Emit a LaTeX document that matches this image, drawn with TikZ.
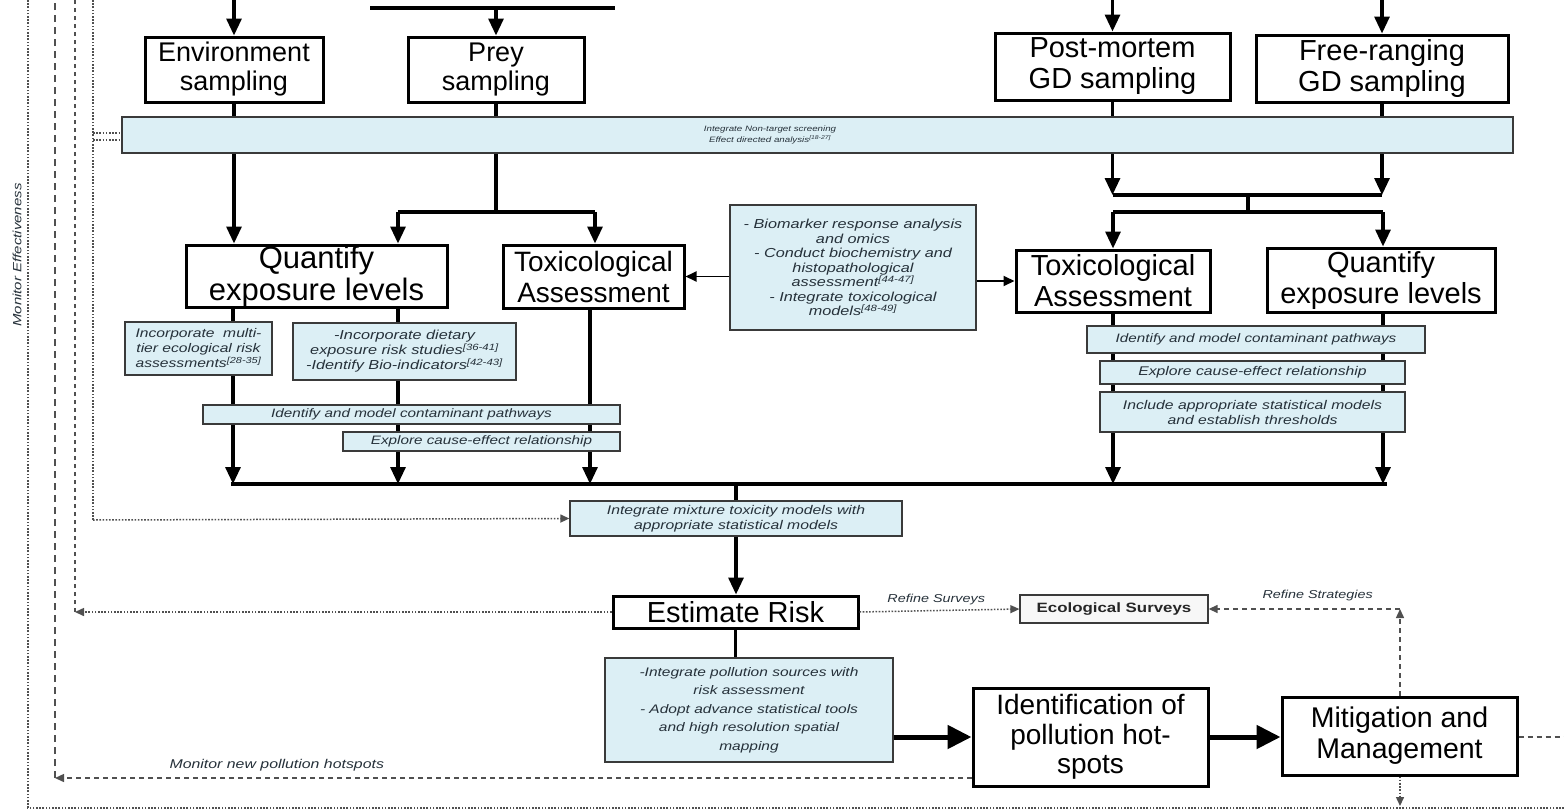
\documentclass[tikz,border=0pt]{standalone}
\usepackage{fontspec}
\setmainfont{Liberation Sans}
\newfontfamily\widesans{Liberation Sans}[FakeStretch=1.25]
\usetikzlibrary{arrows.meta,calc}
\definecolor{paleblue}{HTML}{DCEFF5}
\definecolor{notegray}{HTML}{26313A}
\definecolor{framegray}{HTML}{3A3A3A}
\definecolor{linkgray}{HTML}{505050}
\pgfdeclarelayer{canvas}
\pgfdeclarelayer{background}
\pgfsetlayers{canvas,background,main}
\tikzset{
  bigbox/.style={draw=black, line width=3pt, fill=white, inner sep=0pt, align=center},
  note/.style={draw=framegray, line width=1.3pt, fill=paleblue, inner sep=0pt, align=center, text=notegray},
  flow/.style={line width=3.2pt, -{Triangle[length=17pt,width=15pt]}},
  plain/.style={line width=3.2pt},
  heavy/.style={line width=5pt, -{Triangle[length=24pt,width=23pt]}},
  thin flow/.style={line width=1.8pt, -{Triangle[length=11pt,width=10pt]}},
  dotline/.style={linkgray, line width=1.5pt, dash pattern=on 1.6pt off 1.6pt},
  dashline/.style={linkgray, line width=1.4pt, dash pattern=on 5pt off 4pt},
  tip/.style={-{Triangle[length=9pt,width=8pt]}},
  lbl/.style={text=notegray, inner sep=0pt, font=\widesans\itshape\fontsize{11.5}{13}\selectfont},
}
\newcommand{\nf}[2]{\widesans\itshape\fontsize{#1}{#2}\selectfont}
\newcommand{\bigtxt}[2]{\fontsize{#1}{#2}\selectfont}
\begin{document}
\begin{tikzpicture}[x=1pt,y=-1pt]
\begin{pgfonlayer}{canvas}
\fill[white] (0,0) rectangle (1564,811);
\end{pgfonlayer}
\useasboundingbox (0,0) rectangle (1564,811);

% ---- sampling row
\node[bigbox, minimum width=178, minimum height=65, font=\bigtxt{27}{29}] (env) at (234,69.5) {Environment\\sampling};
\node[bigbox, minimum width=176, minimum height=65, font=\bigtxt{27}{29}] (prey) at (496,69.5) {Prey\\sampling};
\node[bigbox, minimum width=235, minimum height=67, font=\bigtxt{29}{31}] (post) at (1112.5,66.5) {Post-mortem\\GD sampling};
\node[bigbox, minimum width=252, minimum height=67, font=\bigtxt{29}{31}] (free) at (1382,68.5) {Free-ranging\\GD sampling};

% ---- screening band
\node[note, minimum width=1391, minimum height=36] (nts) at (817.5,135) {};
\node[text=notegray, inner sep=0pt, align=center, font=\nf{7.8}{11}] (ntstext) at (770,135) {Integrate Non-target screening\\Effect directed analysis\textsuperscript{[18-27]}};

% ---- assessment row
\node[bigbox, minimum width=261, minimum height=62, font=\bigtxt{31}{32}] (qL) at (316.5,276) {Quantify\\exposure levels};
\node[bigbox, minimum width=181, minimum height=63, font=\bigtxt{28}{31}] (tL) at (593.5,276.5) {Toxicological\\Assessment};
\node[note, minimum width=246, minimum height=125, font=\nf{13}{14.5}] (bio) at (853,267.5) {- Biomarker response analysis\\and omics\\- Conduct biochemistry and\\histopathological\\assessment\textsuperscript{[44-47]}\\- Integrate toxicological\\models\textsuperscript{[48-49]}};
\node[bigbox, minimum width=194, minimum height=62, font=\bigtxt{29}{31}] (tR) at (1113,281) {Toxicological\\Assessment};
\node[bigbox, minimum width=228, minimum height=64, font=\bigtxt{29}{31}] (qR) at (1381,280) {Quantify\\exposure levels};

% ---- notes under the assessments
\node[note, minimum width=147, minimum height=53, font=\nf{12.5}{15}] (multi) at (198.5,348.5) {Incorporate \ multi-\\tier ecological risk\\assessments\textsuperscript{[28-35]}};
\node[note, minimum width=223, minimum height=57, font=\nf{13}{15}] (diet) at (404.5,351.5) {-Incorporate dietary\\exposure risk studies\textsuperscript{[36-41]}\\-Identify Bio-indicators\textsuperscript{[42-43]}};
\node[note, minimum width=417, minimum height=19, font=\nf{12.2}{14}] (pathL) at (411.5,414.5) {Identify and model contaminant pathways};
\node[note, minimum width=277, minimum height=19, font=\nf{12.2}{14}] (causeL) at (481.5,441.5) {Explore cause-effect relationship};
\node[note, minimum width=338, minimum height=27, font=\nf{12.2}{14}] (pathR) at (1256,339.5) {Identify and model contaminant pathways};
\node[note, minimum width=305, minimum height=23, font=\nf{12.6}{14}] (causeR) at (1252.5,372.5) {Explore cause-effect relationship};
\node[note, minimum width=305, minimum height=40, font=\nf{12.6}{15}] (statR) at (1252.5,412) {Include appropriate statistical models\\and establish thresholds};

% ---- integration and risk
\node[note, minimum width=332, minimum height=35, font=\nf{12.6}{15}] (mix) at (736,518.5) {Integrate mixture toxicity models with\\appropriate statistical models};
\node[bigbox, minimum width=245, minimum height=32, font=\bigtxt{29}{30}] (risk) at (735.5,612) {Estimate Risk};
\node[draw=framegray, line width=1.3pt, fill=gray!6, inner sep=0pt, minimum width=188, minimum height=28, text=black!85, font=\widesans\bfseries\fontsize{13.5}{15}\selectfont] (eco) at (1114,609) {Ecological Surveys};
\node[note, minimum width=288, minimum height=104, font=\nf{12.4}{18.5}] (poll) at (749,710) {-Integrate pollution sources with\\risk assessment\\- Adopt advance statistical tools\\and high resolution spatial\\mapping};
\node[bigbox, minimum width=235, minimum height=98, font=\bigtxt{28}{29.5}] (ident) at (1090.5,737) {Identification of\\pollution hot-\\spots};
\node[bigbox, minimum width=235, minimum height=78, font=\bigtxt{28.5}{31}] (mitig) at (1399.5,736) {Mitigation and\\Management};

% ---- junction and edge points
\coordinate (topEnv) at (234,0);
\coordinate (preyL) at (370,8);
\coordinate (preyR) at (615,8);
\coordinate (topPrey) at (496,8);
\coordinate (topPost) at (1112.5,0);
\coordinate (topFree) at (1382,0);
\coordinate (jPrey) at (496,212);
\coordinate (jPreyL) at (398,212);
\coordinate (jPreyR) at (595,212);
\coordinate (jGD) at (1248,195);
\coordinate (jGDa) at (1112.5,195);
\coordinate (jGDb) at (1382,195);
\coordinate (jGDc) at (1248,212);
\coordinate (jGDL) at (1113,212);
\coordinate (jGDR) at (1383,212);
\coordinate (busL) at (233,484);
\coordinate (busR) at (1385,484);
\coordinate (busM) at (736,484);
\coordinate (busT) at (590,484);
\coordinate (effX) at (28,808);
\coordinate (effTop) at (28,0);
\coordinate (effR) at (1564,808);
\coordinate (mitigDown) at (1400,806);
\coordinate (mitigOut) at (1564,737);
\coordinate (hotL) at (55,778);
\coordinate (hotTop) at (55,0);
\coordinate (riskL) at (75,612);
\coordinate (riskTop) at (75,0);
\coordinate (mixL) at (93,520);
\coordinate (mixTop) at (93,0);
\coordinate (stratC) at (1400,609);
\coordinate (ntsA) at (93,133);
\coordinate (ntsB) at (93,140);

\begin{pgfonlayer}{background}
  % incoming arrows at the top
  \draw[flow] (topEnv) -- (env.north);
  \draw[plain] (preyL) -- (preyR);
  \draw[flow] (topPrey) -- (prey.north);
  \draw[flow] (topPost) -- (post.north);
  \draw[flow] (topFree) -- (free.north);
  % sampling to assessment
  \draw[flow] (env.south) -- (env.south |- qL.north);
  \draw[plain] (prey.south) -- (jPrey);
  \draw[plain] (jPreyL) -- (jPreyR);
  \draw[flow] (jPreyL) -- (jPreyL |- qL.north);
  \draw[flow] (jPreyR) -- (jPreyR |- tL.north);
  \draw[flow] (post.south) -- (jGDa);
  \draw[flow] (free.south) -- (jGDb);
  \draw[plain] (jGDa) -- (jGDb);
  \draw[plain] (jGD) -- (jGDc);
  \draw[plain] (jGDL) -- (jGDR);
  \draw[flow] (jGDL) -- (jGDL |- tR.north);
  \draw[flow] (jGDR) -- (jGDR |- qR.north);
  % assessment to the bus
  \draw[flow] (busL |- qL.south) -- (busL);
  \draw[flow] (jPreyL |- qL.south) -- (jPreyL |- busL);
  \draw[flow] (busT |- tL.south) -- (busT);
  \draw[flow] (jGDL |- tR.south) -- (jGDL |- busL);
  \draw[flow] (jGDR |- qR.south) -- (jGDR |- busL);
  \draw[plain, line cap=rect] (busL) -- (busR);
  \draw[plain] (busM) -- (busM |- mix.north);
\end{pgfonlayer}

% biomarker links
\draw[thin flow] (bio.west |- tL.east) -- (tL.east);
\draw[thin flow] (bio.east |- tR.west) -- (tR.west);

% risk chain
\draw[flow] (mix.south) -- (mix.south |- risk.north);
\draw[plain] (risk.south) -- (risk.south |- poll.north);
\draw[heavy] (poll.east |- ident.west) -- (ident.west);
\draw[heavy] (ident.east) -- (mitig.west |- ident.east);

% feedback loops
\draw[dotline, tip] (risk.east) -- node[lbl, above=5pt, pos=0.48] (refS) {Refine Surveys} (eco.west);
\draw[dashline, tip] (mitig.north -| stratC) -- (stratC);
\draw[dashline, tip] (stratC) -- node[lbl, above=7pt, pos=0.43] (refT) {Refine Strategies} (eco.east);
\draw[dashline] (mitig.east |- mitigOut) -- (mitigOut);
\draw[dotline, tip] (mitig.south -| mitigDown) -- (mitigDown);
\draw[dotline] (effR) -- (effX) -- (effTop);
\node[lbl, rotate=90, font=\widesans\itshape\fontsize{12}{14}\selectfont] (effLbl) at (17,255) {Monitor Effectiveness};
\draw[dashline, tip] (ident.west |- hotL) -- node[lbl, above=6pt, pos=0.758, font=\widesans\itshape\fontsize{12.7}{14}\selectfont] (hotLbl) {Monitor new pollution hotspots} (hotL);
\draw[dashline, dash pattern=on 7pt off 5pt] (hotL) -- (hotTop);
\draw[dotline, tip] (risk.west) -- (riskL);
\draw[dashline, dash pattern=on 4pt off 4pt] (riskL) -- (riskTop);
\draw[dotline, tip] (mixL) -- (mix.west);
\draw[dotline] (mixL) -- (mixTop);
\draw[dotline] (ntsA) -- (nts.west |- ntsA);
\draw[dotline] (ntsB) -- (nts.west |- ntsB);
\end{tikzpicture}
\end{document}
